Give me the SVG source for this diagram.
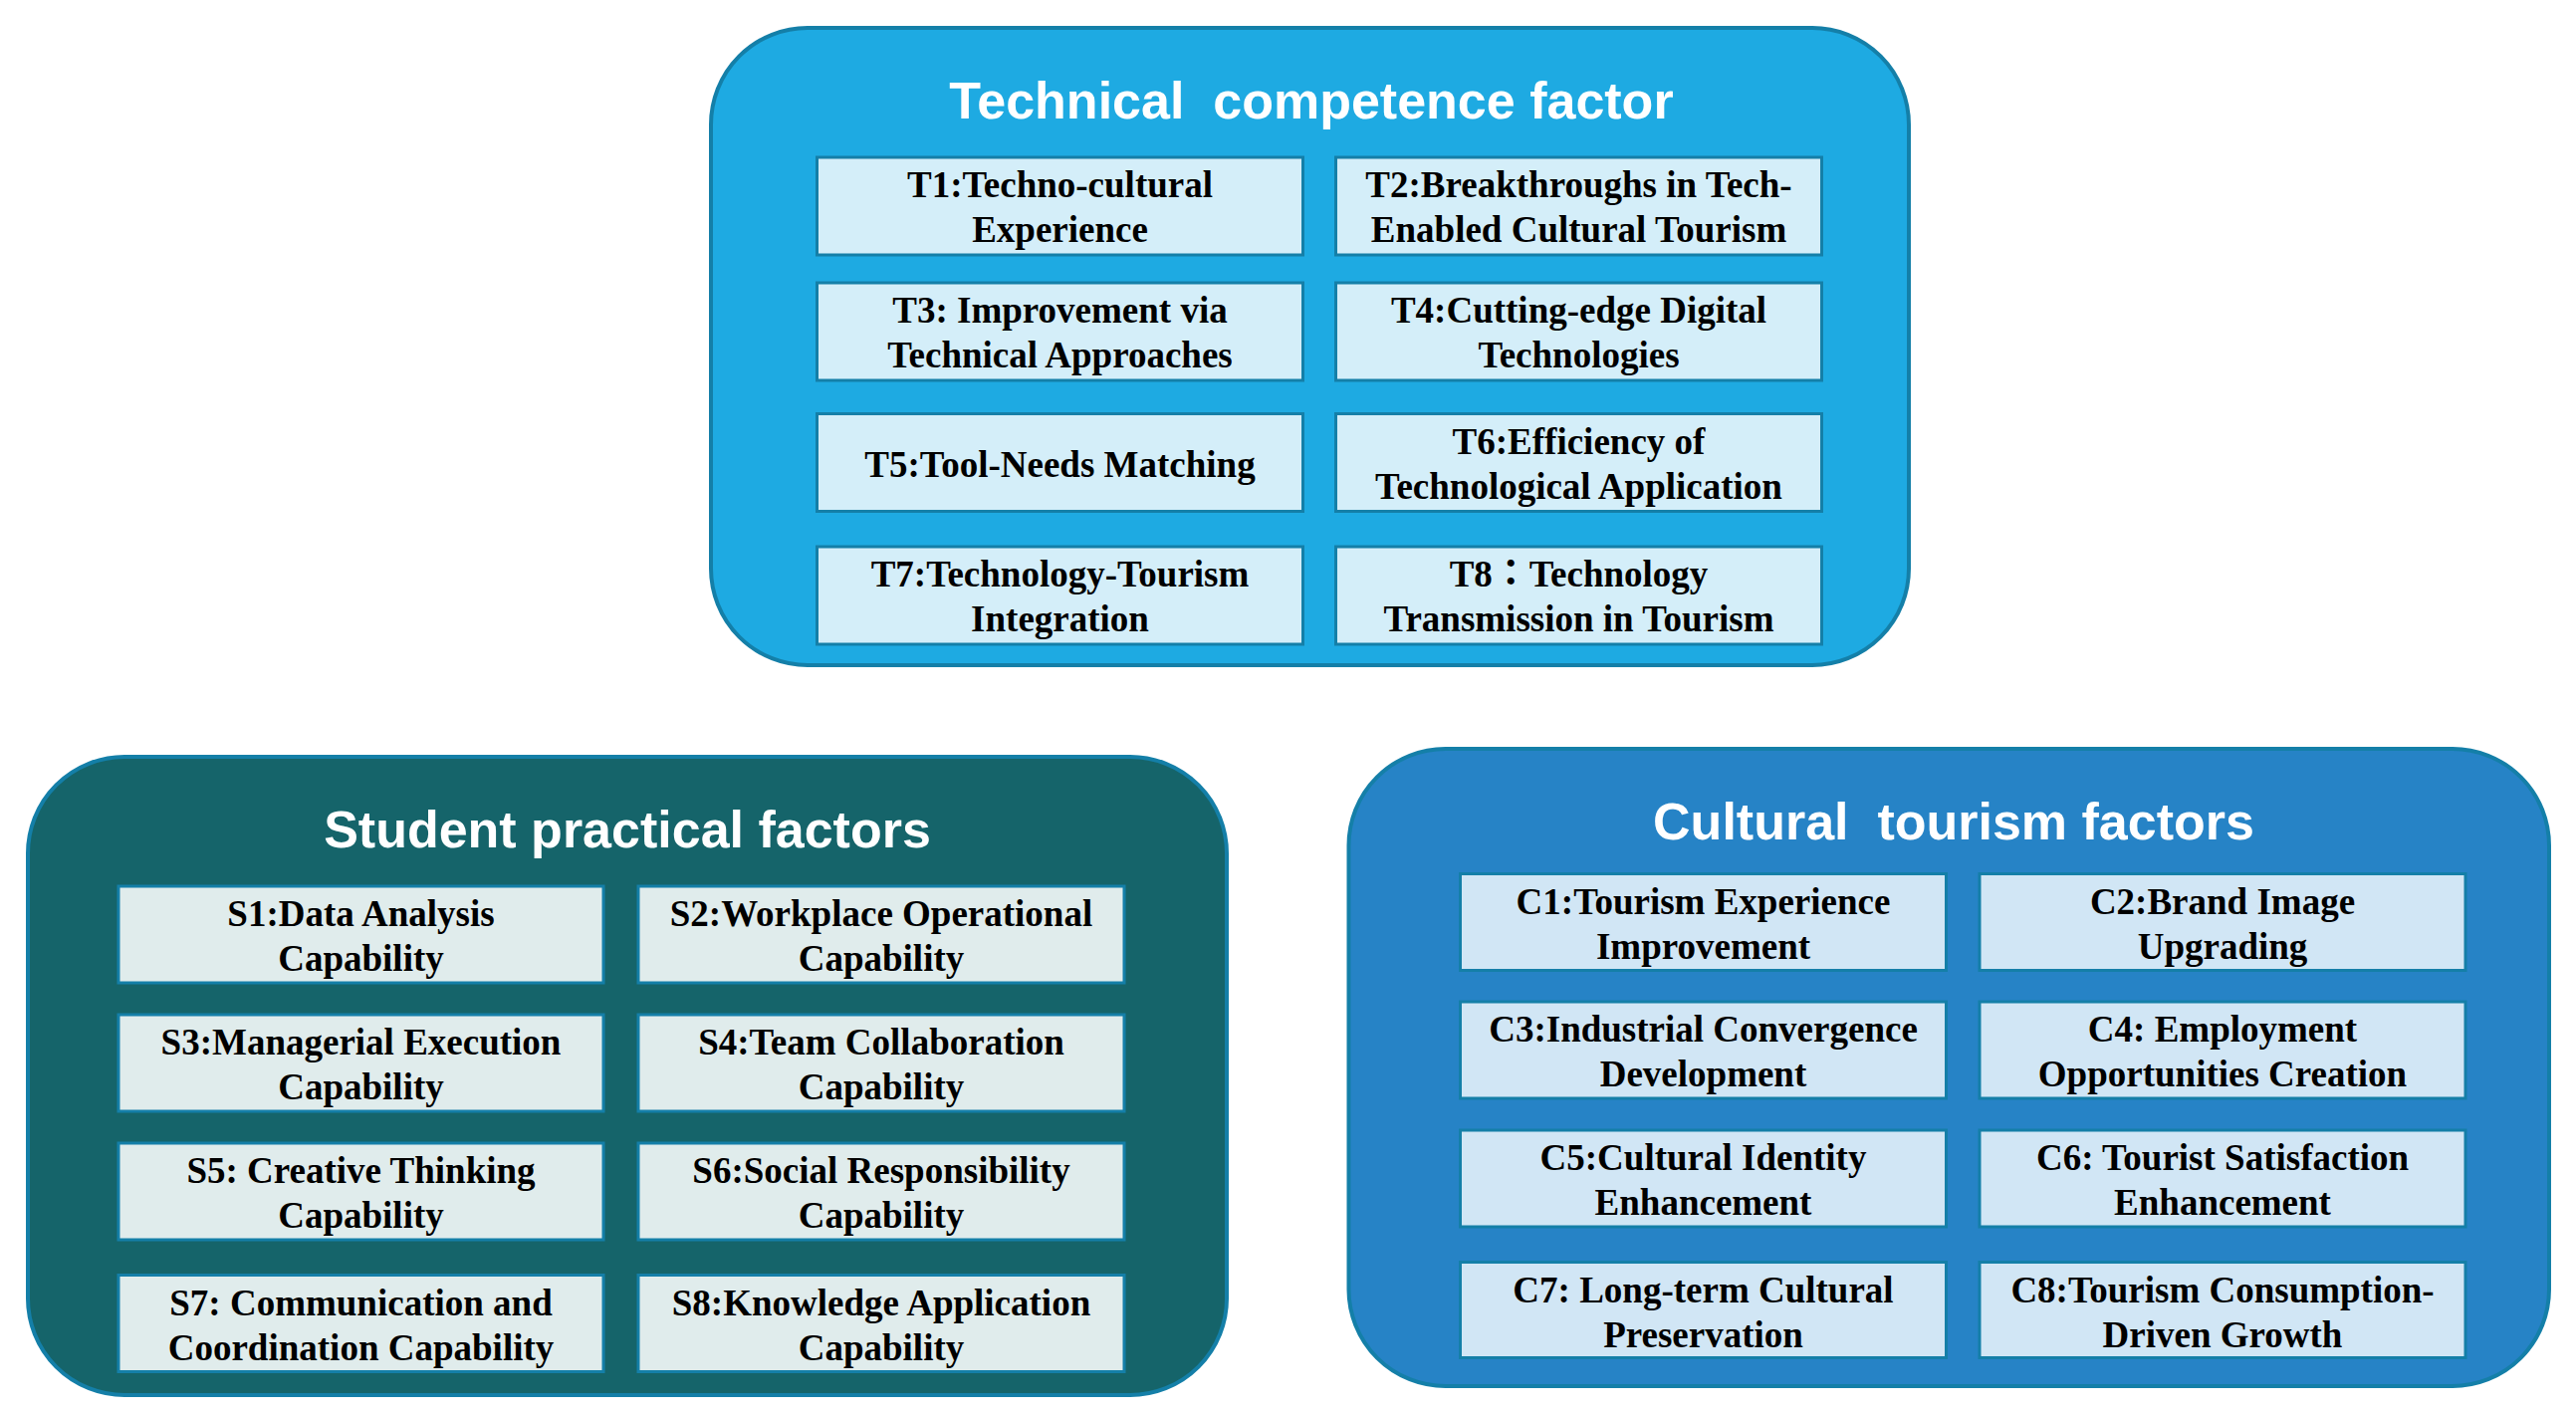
<svg xmlns="http://www.w3.org/2000/svg" width="2587" height="1419" viewBox="0 0 2587 1419">
<style>
.cont{stroke:#147FA8;stroke-width:4}
.box{stroke:#147FA8;stroke-width:3}
.title{font-family:"Liberation Sans",Arial,sans-serif;font-weight:bold;font-size:52px;fill:#FFFFFF;text-anchor:middle}
.lbl{font-family:"Liberation Serif","Times New Roman","Noto Sans CJK TC",serif;font-weight:bold;font-size:37px;fill:#000000;text-anchor:middle}
.cjk{font-family:"Noto Sans CJK TC","Noto Sans CJK SC",sans-serif}
.tb{fill:#D4EEF9}
.sb{fill:#E0ECEC}
.cb{fill:#D1E6F5}
</style>
<rect width="2587" height="1419" fill="#FFFFFF"/>
<g id="connectors"></g>

<g id="technical">
<rect class="cont" x="714" y="28" width="1203" height="640" rx="97" fill="#1EAAE2"/>
<text class="title" x="1317" y="119" xml:space="preserve">Technical  competence factor</text>
</g>
<g id="T1"><rect class="box tb" x="820.5" y="158" width="488" height="98"/><text class="lbl" x="1064.5" y="198">T1:Techno-cultural</text><text class="lbl" x="1064.5" y="243">Experience</text></g>
<g id="T2"><rect class="box tb" x="1341.5" y="158" width="488" height="98"/><text class="lbl" x="1585.5" y="198">T2:Breakthroughs in Tech-</text><text class="lbl" x="1585.5" y="243">Enabled Cultural Tourism</text></g>
<g id="T3"><rect class="box tb" x="820.5" y="284" width="488" height="98"/><text class="lbl" x="1064.5" y="324">T3: Improvement via</text><text class="lbl" x="1064.5" y="369">Technical Approaches</text></g>
<g id="T4"><rect class="box tb" x="1341.5" y="284" width="488" height="98"/><text class="lbl" x="1585.5" y="324">T4:Cutting-edge Digital</text><text class="lbl" x="1585.5" y="369">Technologies</text></g>
<g id="T5"><rect class="box tb" x="820.5" y="415.5" width="488" height="98"/><text class="lbl" x="1064.5" y="478.5">T5:Tool-Needs Matching</text></g>
<g id="T6"><rect class="box tb" x="1341.5" y="415.5" width="488" height="98"/><text class="lbl" x="1585.5" y="455.5">T6:Efficiency of</text><text class="lbl" x="1585.5" y="500.5">Technological Application</text></g>
<g id="T7"><rect class="box tb" x="820.5" y="549" width="488" height="98"/><text class="lbl" x="1064.5" y="589">T7:Technology-Tourism</text><text class="lbl" x="1064.5" y="634">Integration</text></g>
<g id="T8"><rect class="box tb" x="1341.5" y="549" width="488" height="98"/><text class="lbl" x="1585.5" y="589">T8<tspan class="cjk">：</tspan>Technology</text><text class="lbl" x="1585.5" y="634">Transmission in Tourism</text></g>

<g id="student">
<rect class="cont" x="28" y="760" width="1204" height="641" rx="97" fill="#15646A"/>
<text class="title" x="630" y="851">Student practical factors</text>
</g>
<g id="S1"><rect class="box sb" x="119" y="890" width="487" height="97"/><text class="lbl" x="362.5" y="930">S1:Data Analysis</text><text class="lbl" x="362.5" y="975">Capability</text></g>
<g id="S2"><rect class="box sb" x="641" y="890" width="488" height="97"/><text class="lbl" x="885" y="930">S2:Workplace Operational</text><text class="lbl" x="885" y="975">Capability</text></g>
<g id="S3"><rect class="box sb" x="119" y="1019" width="487" height="97"/><text class="lbl" x="362.5" y="1059">S3:Managerial Execution</text><text class="lbl" x="362.5" y="1104">Capability</text></g>
<g id="S4"><rect class="box sb" x="641" y="1019" width="488" height="97"/><text class="lbl" x="885" y="1059">S4:Team Collaboration</text><text class="lbl" x="885" y="1104">Capability</text></g>
<g id="S5"><rect class="box sb" x="119" y="1148" width="487" height="97"/><text class="lbl" x="362.5" y="1188">S5: Creative Thinking</text><text class="lbl" x="362.5" y="1233">Capability</text></g>
<g id="S6"><rect class="box sb" x="641" y="1148" width="488" height="97"/><text class="lbl" x="885" y="1188">S6:Social Responsibility</text><text class="lbl" x="885" y="1233">Capability</text></g>
<g id="S7"><rect class="box sb" x="119" y="1280.5" width="487" height="97"/><text class="lbl" x="362.5" y="1320.5">S7: Communication and</text><text class="lbl" x="362.5" y="1365.5">Coordination Capability</text></g>
<g id="S8"><rect class="box sb" x="641" y="1280.5" width="488" height="97"/><text class="lbl" x="885" y="1320.5">S8:Knowledge Application</text><text class="lbl" x="885" y="1365.5">Capability</text></g>

<g id="cultural">
<rect class="cont" x="1354.5" y="752" width="1205.5" height="640" rx="97" fill="#2683C6"/>
<text class="title" x="1962" y="843" xml:space="preserve">Cultural  tourism factors</text>
</g>
<g id="C1"><rect class="box cb" x="1466.5" y="877.5" width="488" height="97"/><text class="lbl" x="1710.5" y="917.5">C1:Tourism Experience</text><text class="lbl" x="1710.5" y="962.5">Improvement</text></g>
<g id="C2"><rect class="box cb" x="1988" y="877.5" width="488" height="97"/><text class="lbl" x="2232" y="917.5">C2:Brand Image</text><text class="lbl" x="2232" y="962.5">Upgrading</text></g>
<g id="C3"><rect class="box cb" x="1466.5" y="1006" width="488" height="97"/><text class="lbl" x="1710.5" y="1046">C3:Industrial Convergence</text><text class="lbl" x="1710.5" y="1091">Development</text></g>
<g id="C4"><rect class="box cb" x="1988" y="1006" width="488" height="97"/><text class="lbl" x="2232" y="1046">C4: Employment</text><text class="lbl" x="2232" y="1091">Opportunities Creation</text></g>
<g id="C5"><rect class="box cb" x="1466.5" y="1135" width="488" height="97"/><text class="lbl" x="1710.5" y="1175">C5:Cultural Identity</text><text class="lbl" x="1710.5" y="1220">Enhancement</text></g>
<g id="C6"><rect class="box cb" x="1988" y="1135" width="488" height="97"/><text class="lbl" x="2232" y="1175">C6: Tourist Satisfaction</text><text class="lbl" x="2232" y="1220">Enhancement</text></g>
<g id="C7"><rect class="box cb" x="1466.5" y="1267.5" width="488" height="96"/><text class="lbl" x="1710.5" y="1307.5">C7: Long-term Cultural</text><text class="lbl" x="1710.5" y="1352.5">Preservation</text></g>
<g id="C8"><rect class="box cb" x="1988" y="1267.5" width="488" height="96"/><text class="lbl" x="2232" y="1307.5">C8:Tourism Consumption-</text><text class="lbl" x="2232" y="1352.5">Driven Growth</text></g>
</svg>
